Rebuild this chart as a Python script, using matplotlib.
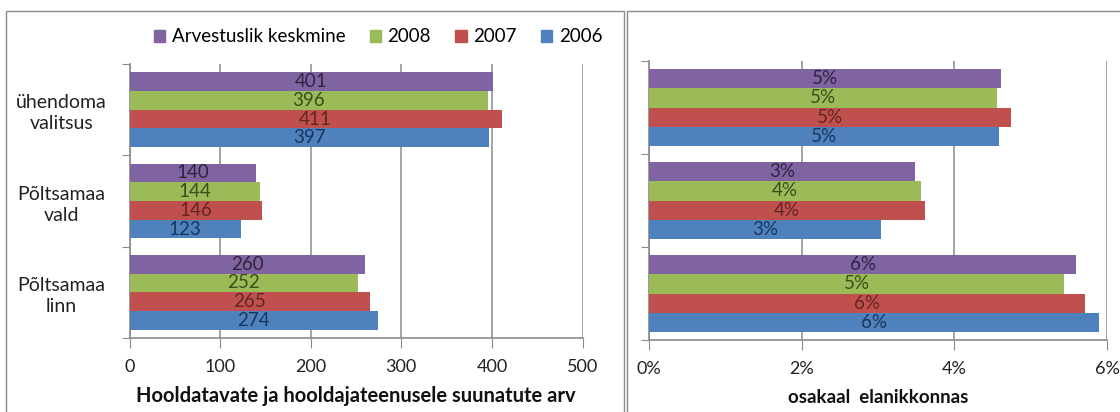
import matplotlib
matplotlib.use("Agg")
import matplotlib.pyplot as plt
from matplotlib.patches import Patch, Rectangle
import numpy as np

plt.rcParams['font.family'] = ['Lato', 'DejaVu Sans']

categories = ["Põltsamaa\nlinn", "Põltsamaa\nvald", "ühendoma\nvalitsus"]
series_names = ["2006", "2007", "2008", "Arvestuslik keskmine"]
counts = {
    "2006": [274, 123, 397],
    "2007": [265, 146, 411],
    "2008": [252, 144, 396],
    "Arvestuslik keskmine": [260, 140, 401],
}
shares = {
    "2006": [5.90, 3.04, 4.58],
    "2007": [5.71, 3.61, 4.74],
    "2008": [5.44, 3.56, 4.56],
    "Arvestuslik keskmine": [5.60, 3.49, 4.61],
}
left_ticks = [0, 100, 200, 300, 400, 500]
right_ticks = [0, 2, 4, 6]
right_ticklabels = ["0%", "2%", "4%", "6%"]

bar_colors = {"2006": "#4F81BD", "2007": "#C0504D", "2008": "#9BBB59",
              "Arvestuslik keskmine": "#8064A2"}
label_colors = {"2006": "#17375E", "2007": "#632523", "2008": "#3B4E1A",
                "Arvestuslik keskmine": "#2E2340"}
GRAY = "#8A8A8A"

W, H = 1120, 412
fig = plt.figure(figsize=(W / 100, H / 100), dpi=100)

# panel borders
fig.add_artist(Rectangle((6 / W, -0.05), (624 - 6) / W, (H - 11) / H + 0.05,
                         transform=fig.transFigure, fill=False, ec=GRAY, lw=1))
fig.add_artist(Rectangle((627 / W, -0.05), 1.1, (H - 11) / H + 0.05,
                         transform=fig.transFigure, fill=False, ec=GRAY, lw=1))


def px_axes(x0, x1, ytop, ybot):
    return fig.add_axes([x0 / W, (H - ybot) / H, (x1 - x0) / W, (ybot - ytop) / H])


axL = px_axes(129.5, 582.5, 64, 338)
axR = px_axes(649, 1107, 61, 340)

y = np.arange(len(categories))
h = 0.205
offsets = [-1.5 * h, -0.5 * h, 0.5 * h, 1.5 * h]


def draw(ax, data, fmt):
    for name, off in zip(series_names, offsets):
        vals = data[name]
        bars = ax.barh(y + off, vals, height=h, color=bar_colors[name], zorder=3)
        for b, v in zip(bars, vals):
            ax.text(b.get_x() + b.get_width() / 2, b.get_y() + b.get_height() / 2,
                    fmt(v), ha="center", va="center", fontsize=13.5,
                    color=label_colors[name], zorder=4)
    ax.set_ylim(-0.5, len(categories) - 0.5)
    ax.set_yticks(np.arange(len(categories) + 1) - 0.5)
    ax.set_yticklabels([])
    ax.tick_params(axis="y", which="major", length=6, color=GRAY, direction="out")
    ax.tick_params(axis="x", length=7, color=GRAY, direction="out", labelsize=13,
                   pad=8, labelcolor="#222222")
    for s in ["top", "right"]:
        ax.spines[s].set_visible(False)
    for s in ["left", "bottom"]:
        ax.spines[s].set_color(GRAY)
        ax.spines[s].set_linewidth(1.2)
    ax.grid(axis="x", color=GRAY, lw=1.1, zorder=1)
    ax.set_axisbelow(True)


draw(axL, counts, lambda v: f"{v:.0f}")
axL.set_xlim(0, 500)
axL.set_xticks(left_ticks)
axL.set_xlabel("Hooldatavate ja hooldajateenusele suunatute arv", fontsize=14.5,
               fontweight="bold", labelpad=8, color="#111111")
axL.set_yticks(y, minor=True)
axL.set_yticklabels(categories, minor=True, fontsize=14, color="#222222")
axL.tick_params(axis="y", which="minor", length=0, pad=49)
for lab in axL.get_yticklabels(minor=True):
    lab.set_ha("center")
    lab.set_multialignment("center")
    lab.set_linespacing(1.3)

draw(axR, shares, lambda v: f"{v:.0f}%")
axR.set_xlim(0, 6)
axR.set_xticks(right_ticks)
axR.set_xticklabels(right_ticklabels)
axR.set_xlabel("osakaal  elanikkonnas", fontsize=13.5, fontweight="bold",
               labelpad=9, color="#111111")

handles = [Patch(color=bar_colors[n], label=n) for n in reversed(series_names)]
fig.legend(handles=handles, loc="center", bbox_to_anchor=(378 / W, (H - 37) / H),
           ncol=4, frameon=False, fontsize=13.5, handlelength=0.6, handleheight=0.6,
           handletextpad=0.35, columnspacing=1.3)

fig.savefig("out.png", dpi=100)
